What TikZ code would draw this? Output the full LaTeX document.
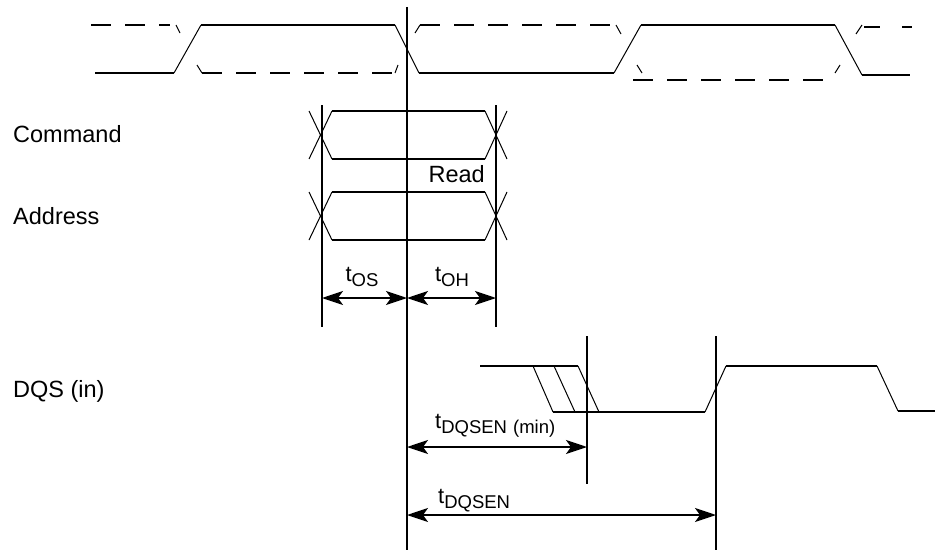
\documentclass[tikz,border=0pt]{standalone}
\usepackage{fontspec}
\setmainfont{Liberation Sans}
\usetikzlibrary{arrows.meta}
\tikzset{
    sig/.style={line width=1.8pt},
    edge/.style={line width=1pt},
    csharp/.style={line width=1.8pt,dash pattern=on 20pt off 14pt},
    marker/.style={line width=1.8pt},
    span/.style={line width=1.6pt,
        {Stealth[length=21pt,width=14pt,inset=5pt]}-{Stealth[length=21pt,width=14pt,inset=5pt]}},
    lab/.style={font=\fontsize{23.5}{27}\selectfont,inner sep=0pt}
}
\newcommand{\tlab}[1]{{\fontsize{22}{24}\selectfont t}\raisebox{-5pt}{\fontsize{18.5}{20}\selectfont #1}}
\begin{document}
\begin{tikzpicture}[x=1pt,y=-1pt]
                \useasboundingbox (0,0) rectangle (937,551);
                % clock
                \draw[sig]
                    (95,73) -- (174,73);
                \draw[edge]
                    (174,73) -- (201,25);
                \draw[sig]
                    (201,25) -- (395,25);
                \draw[edge]
                    (395,25) -- (419,73);
                \draw[sig]
                    (419,73) -- (614,73);
                \draw[edge]
                    (614,73) -- (641,25);
                \draw[sig]
                    (641,25) -- (835,25);
                \draw[edge]
                    (835,25) -- (862,75);
                \draw[sig]
                    (862,75) -- (910,75);
                % inverted clock
                \draw[csharp] (91,25) -- (170,25);
                \draw[edge] (176,25) -- (180,33);
                \draw[edge] (197,65) -- (202,73);
                \draw[csharp] (202,73) -- (395,73);
                \draw[edge] (395,73) -- (398,65);
                \draw[edge] (415,33) -- (420,25);
                \draw[csharp] (420,25) -- (616,25);
                \draw[edge] (616,25) -- (621,34);
                \draw[edge] (637,65) -- (642,73);
                \draw[csharp] (633,80) -- (827,80);
                \draw[edge] (835,73) -- (840,65);
                \draw[edge] (856,34) -- (862,25);
                \draw[sig] (864,27) -- (880,27);
                \draw[sig] (902,27) -- (912,27);
                % command and address
                \foreach \yt/\yb in {111/159,192/240} {
                    \draw[edge] (309,\yt) -- (332,\yb);
                    \draw[edge] (309,\yb) -- (332,\yt);
                    \draw[sig] (332,\yt) -- (485,\yt);
                    \draw[sig] (332,\yb) -- (485,\yb);
                    \draw[edge] (485,\yt) -- (507,\yb);
                    \draw[edge] (485,\yb) -- (507,\yt);
                }
                \node[lab,anchor=base west] (cmd) at (13,142) {Command};
                \node[lab,anchor=base west] (addr) at (13,224) {Address};
                \node[lab,anchor=base east] (read) at (485,182) {Read};
                % DQS
                \draw[sig] (480,366) -- (578,366);
                \draw[edge] (533,366) -- (553,412);
                \draw[edge] (554,366) -- (575,412);
                \draw[edge] (578,366) -- (599,412);
                \draw[sig] (553,412) -- (705,412);
                \draw[edge] (705,412) -- (726,366);
                \draw[sig] (726,366) -- (877,366);
                \draw[edge] (877,366) -- (898,411);
                \draw[sig] (898,411) -- (935,411);
                \node[lab,anchor=base west] (dqs) at (13,397) {DQS (in)};
                % reference lines
                \coordinate (osT) at (322,105);  \coordinate (osB) at (322,327);
                \coordinate (ckT) at (407,7);    \coordinate (ckB) at (407,550);
                \coordinate (ohT) at (496,105);  \coordinate (ohB) at (496,327);
                \coordinate (enT) at (587,336);  \coordinate (enB) at (587,484);
                \coordinate (eT) at (716,336);   \coordinate (eB) at (716,550);
                \foreach \a/\b in {osT/osB,ckT/ckB,ohT/ohB,enT/enB,eT/eB}
                    \draw[marker] (\a) -- (\b);
                % timing spans
                \draw[span] (osB |- 0,298) -- (ckB |- 0,298);
                \draw[span] (ckB |- 0,298) -- (ohB |- 0,298);
                \draw[span] (ckB |- 0,447) -- (enB |- 0,447);
                \draw[span] (ckB |- 0,515) -- (eB |- 0,515);
                \node[inner sep=0pt,anchor=base] (tos) at (362,281) {\tlab{OS}};
                \node[inner sep=0pt,anchor=base] (toh) at (452,281) {\tlab{OH}};
                \node[inner sep=0pt,anchor=base west] (tenmin) at (435,428)
                    {\tlab{DQSEN\hspace{6pt}(min)}};
                \node[inner sep=0pt,anchor=base west] (ten) at (438,503) {\tlab{DQSEN}};
            \end{tikzpicture}
\end{document}
